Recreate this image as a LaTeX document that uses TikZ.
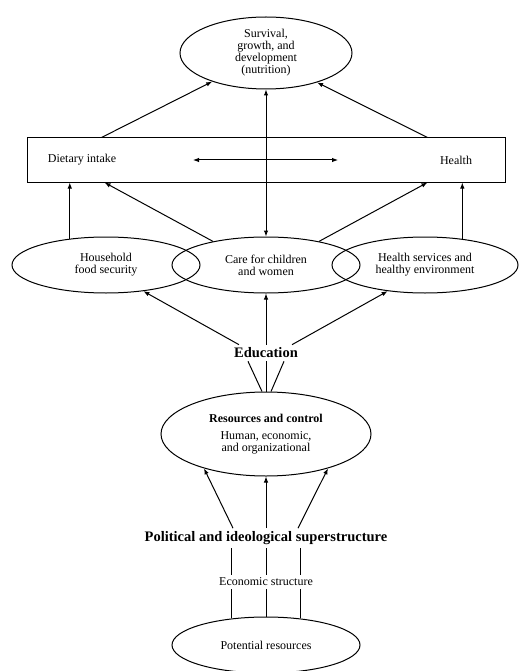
\documentclass[tikz,border=0pt]{standalone}
\usepackage{fontspec}
\setmainfont{Liberation Serif}
\usetikzlibrary{shapes.geometric, arrows.meta, positioning, calc}

\begin{document}
\begin{tikzpicture}[x=1pt, y=-1pt,
  oval/.style={ellipse, draw, line width=1pt, inner sep=0pt, align=center, font=\fontsize{12}{12}\selectfont},
  lbl/.style={font=\fontsize{12}{12}\selectfont, inner sep=3pt},
  head/.style={font=\bfseries\fontsize{14.5}{16}\selectfont, inner sep=3pt},
  arr/.style={-{Latex[length=6pt, width=4.5pt]}, line width=1pt},
  dblarr/.style={{Latex[length=6pt, width=4.5pt]}-{Latex[length=6pt, width=4.5pt]}, line width=1pt},
  ln/.style={line width=1pt},
]
\useasboundingbox (0,0) rectangle (520,671);

\node[oval, minimum width=172pt, minimum height=72pt] (top) at (266,53) {Survival,\\growth, and\\development\\(nutrition)};
\node[draw, line width=1pt, minimum width=478pt, minimum height=44pt] (box) at (266,160) {};
\node[lbl] (diet) at (82,160) {Dietary intake};
\node[lbl] (health) at (456,160) {Health};
\coordinate (hl) at (193,160);
\coordinate (hr) at (338,160);

\node[oval, minimum width=188pt, minimum height=56pt] (food) at (106,265) {Household\\food security};
\node[oval, minimum width=188pt, minimum height=56pt] (care) at (266,265) {Care for children\\and women};
\node[oval, minimum width=186pt, minimum height=56pt] (hserv) at (425,265) {Health services and\\healthy environment};

\node[head] (edu) at (266,353) {Education};
\node[oval, minimum width=210pt, minimum height=84pt] (res) at (266,434) {\textbf{Resources and control}\\[5pt]Human, economic,\\and organizational};

\node[head] (pol) at (266,538) {Political and ideological superstructure};
\node[lbl] (econ) at (266,582) {Economic structure};
\node[oval, minimum width=188pt, minimum height=56pt] (pot) at (266,645) {Potential resources};

\draw[arr] ($(box.north west)+(75,0)$) -- (top.208);
\draw[arr] ($(box.north east)+(-78,0)$) -- (top.330);
\draw[dblarr] (top.south) -- (care.north);
\draw[dblarr] (hl) -- (hr);

\draw[arr] (food.144) -- (food.144 |- box.south);
\draw[arr] (care.156) -- ($(box.south west)+(78,0)$);
\draw[arr] (care.24) -- ($(box.south east)+(-78,0)$);
\draw[arr] (hserv.35) -- (hserv.35 |- box.south);

\draw[arr] ($(edu.north)+(-27,0)$) -- (food.-35);
\draw[arr] (edu.north) -- (care.south);
\draw[arr] ($(edu.north)+(26,0)$) -- (hserv.215);

\draw[ln] ($(res.north)+(-4,0)$) -- ($(edu.south)+(-18,0)$);
\draw[ln] (res.north) -- (edu.south);
\draw[ln] ($(res.north)+(5,0)$) -- ($(edu.south)+(18,0)$);

\draw[arr] ($(pol.north)+(-33,0)$) -- (res.209);
\draw[arr] (pol.north) -- (res.south);
\draw[arr] ($(pol.north)+(32,0)$) -- (res.331);

\foreach \a in {142, 90, 38} {
  \draw[ln] (pot.\a) -- (pot.\a |- econ.south);
  \draw[ln] (pot.\a |- econ.north) -- (pot.\a |- pol.south);
}
\end{tikzpicture}
\end{document}
